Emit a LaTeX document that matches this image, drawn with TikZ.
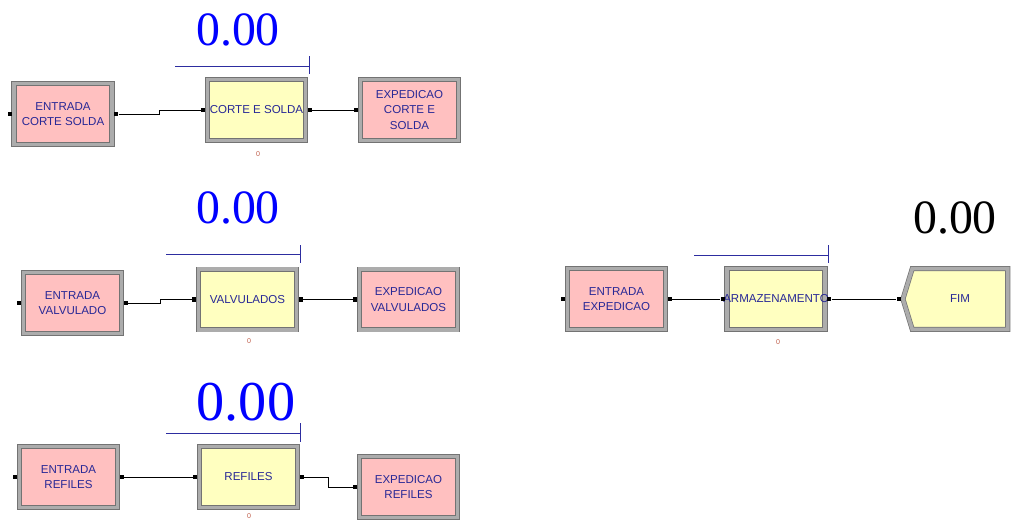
\documentclass[tikz,border=0pt]{standalone}
\usepackage{fontspec}
\setmainfont{Liberation Sans}
\newfontfamily\timesfont{Liberation Serif}
\usetikzlibrary{positioning}
\usetikzlibrary{shapes.symbols}
\definecolor{entrypink}{RGB}{255,192,192}
\definecolor{procyellow}{RGB}{255,255,192}
\definecolor{bevelgray}{RGB}{172,172,172}
\definecolor{beveldark}{RGB}{115,115,115}
\definecolor{labelnavy}{RGB}{40,40,150}
\definecolor{queueblue}{RGB}{45,45,160}
\definecolor{countbrown}{RGB}{190,90,70}
\definecolor{valblue}{RGB}{0,0,255}
\tikzset{
	module/.style={rectangle, draw=beveldark, line width=0.5pt, double=bevelgray, double distance=2.6pt,
		minimum width=2.45cm, minimum height=1.52cm, inner sep=1pt, align=center,
		text=labelnavy, font=\fontsize{8.2}{11}\selectfont},
	create/.style={module, fill=entrypink},
	process/.style={module, fill=procyellow},
	dispose/.style={module, fill=procyellow, signal, signal to=west, signal pointer angle=146, minimum width=2.62cm},
	port/.style={rectangle, fill=black, minimum size=3pt, inner sep=0pt},
	link/.style={draw=black, line width=0.6pt},
	queue/.style={draw=queueblue, line width=0.6pt},
	counter/.style={text=valblue, font=\timesfont\fontsize{34}{34}\selectfont},
	busy/.style={text=countbrown, font=\fontsize{5}{5}\selectfont},
}

\begin{document}
\begin{tikzpicture}[x=0.025cm, y=-0.025cm]
	\useasboundingbox (0,0) rectangle (1019,521);
	% Corte e solda
	\node [create] (ecs) at (63,114) {ENTRADA\\CORTE SOLDA};
	\node [process] (csp) at (256.5,110) {CORTE E SOLDA};
	\node [create] (xcs) at (409.5,110) {EXPEDICAO\\CORTE E\\SOLDA};
	\node [port, left=1pt of ecs] (ecs-in) {};
	\node [port, right=1pt of ecs] (ecs-out) {};
	\node [port, left=1pt of csp] (csp-in) {};
	\node [port, right=1pt of csp] (csp-out) {};
	\node [port, left=1pt of xcs] (xcs-in) {};
	\draw [link] (ecs-out) -- ++(43,0) |- (csp-in);
	\draw [link] (csp-out) -- (xcs-in);
	\draw [queue] (175,66) -- (309,66);
	\draw [queue] (309,56) -- (309,74);
	\node [counter] (csp-val) at (238,30) {0.00};
	\node [busy] (csp-busy) at (258,154) {0};
	% Valvulados
	\node [create] (ev) at (72.5,303) {ENTRADA\\VALVULADO};
	\node [process] (vp) at (247.5,299.5) {VALVULADOS};
	\node [create] (xv) at (408.5,299.5) {EXPEDICAO\\VALVULADOS};
	\node [port, left=1pt of ev] (ev-in) {};
	\node [port, right=1pt of ev] (ev-out) {};
	\node [port, left=1pt of vp] (vp-in) {};
	\node [port, right=1pt of vp] (vp-out) {};
	\node [port, left=1pt of xv] (xv-in) {};
	\draw [link] (ev-out) -- ++(35,0) |- (vp-in);
	\draw [link] (vp-out) -- (xv-in);
	\draw [queue] (166,254) -- (300,254);
	\draw [queue] (300,245) -- (300,263);
	\node [counter] (vp-val) at (238,208) {0.00};
	\node [busy] (vp-busy) at (249,341) {0};
	% Refiles
	\node [create] (er) at (68.5,477) {ENTRADA\\REFILES};
	\node [process] (rp) at (248.5,477) {REFILES};
	\node [create] (xr) at (408.5,487) {EXPEDICAO\\REFILES};
	\node [port, left=1pt of er] (er-in) {};
	\node [port, right=1pt of er] (er-out) {};
	\node [port, left=1pt of rp] (rp-in) {};
	\node [port, right=1pt of rp] (rp-out) {};
	\node [port, left=1pt of xr] (xr-in) {};
	\draw [link] (er-out) -- (rp-in);
	\draw [link] (rp-out) -- ++(27,0) |- (xr-in);
	\draw [queue] (166,433) -- (300,433);
	\draw [queue] (300,423) -- (300,442);
	\node [counter, font=\timesfont\fontsize{40}{40}\selectfont] (rp-val) at (246,402) {0.00};
	\node [busy] (rp-busy) at (249,516) {0};
	% Expedicao
	\node [create] (ee) at (616.5,299) {ENTRADA\\EXPEDICAO};
	\node [process] (ap) at (776,299) {\makebox[2.3cm]{ARMAZENAMENTO}};
	\node [dispose] (fim) at (960,299) {FIM};
	\node [port, left=1pt of ee] (ee-in) {};
	\node [port, right=1pt of ee] (ee-out) {};
	\node [port, left=1pt of ap] (ap-in) {};
	\node [port, right=1pt of ap] (ap-out) {};
	\node [port, left=1pt of fim] (fim-in) {};
	\draw [link] (ee-out) -- (ap-in);
	\draw [link] (ap-out) -- (fim-in);
	\draw [queue] (694,255) -- (828,255);
	\draw [queue] (828,245) -- (828,263);
	\node [counter, text=black] (fim-val) at (955,218) {0.00};
	\node [busy] (ap-busy) at (778,342) {0};
\end{tikzpicture}
\end{document}
